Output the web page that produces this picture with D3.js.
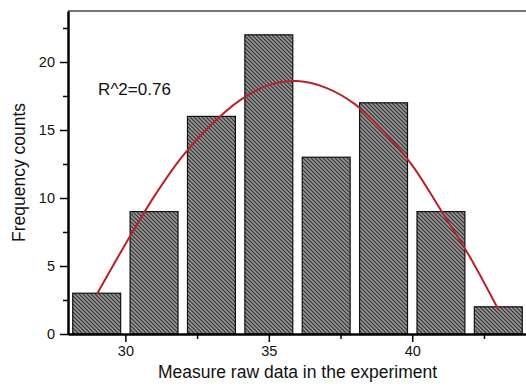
<!DOCTYPE html>
<html>
<head>
<meta charset="utf-8">
<script src="https://cdn.jsdelivr.net/npm/d3@7"></script>
<style>
  html, body { margin: 0; padding: 0; background: #fff; }
  svg { display: block; font-family: "Liberation Sans", Arial, sans-serif; }
</style>
</head>
<body>
<div id="chart"></div>
<script>
// histogram bins (centres) and counts
var binCenters = [29, 31, 33, 35, 37, 39, 41, 43];
var counts = [3, 9, 16, 22, 13, 17, 9, 2];

// fitted curve
var fitX = [29, 30, 31, 32, 33, 34, 35, 36, 37, 38, 39, 40, 41, 42, 43];
var fitY = [2.9, 6.6, 10.1, 13.1, 15.4, 17.2, 18.3, 18.6, 18.1, 16.9, 14.9, 12.4, 9.1, 5.7, 1.8];

var xTicks = [30, 35, 40];
var xMinor = [32.5, 37.5, 42.5];
var yTicks = [0, 5, 10, 15, 20];
var yMinor = [2.5, 7.5, 12.5, 17.5, 22.5];

var fitLabel = "R^2=0.76";

var W = 526, H = 388;
var margin = {top: 11, right: -1, bottom: 54, left: 68},
    width = W - margin.left - margin.right,
    height = H - margin.top - margin.bottom;

var x = d3.scaleLinear().domain([28, 44]).range([0, width]);
var y = d3.scaleLinear().domain([0, 23.75]).range([height, 0]);

var svg = d3.select("#chart").append("svg")
    .attr("width", W)
    .attr("height", H);

// hatch pattern for the bars
var defs = svg.append("defs");
var pat = defs.append("pattern")
    .attr("id", "hatch")
    .attr("patternUnits", "userSpaceOnUse")
    .attr("width", 4)
    .attr("height", 4);
pat.append("rect")
    .attr("width", 4).attr("height", 4)
    .attr("fill", "#979797");
pat.append("path")
    .attr("d", "M-1,-1 L5,5 M-1,3 L1,5 M3,-1 L5,1")
    .attr("stroke", "#333")
    .attr("stroke-width", 1.2);

var g = svg.append("g")
    .attr("transform", "translate(" + margin.left + "," + margin.top + ")");

var barW = x(28 + 1.67) - x(28);

g.selectAll(".bar")
    .data(counts)
  .enter().append("rect")
    .attr("class", "bar")
    .attr("x", function(d, i) { return x(binCenters[i]) - barW / 2; })
    .attr("width", barW)
    .attr("y", function(d) { return y(d); })
    .attr("height", function(d) { return y(0) - y(d); })
    .attr("fill", "url(#hatch)")
    .attr("stroke", "#111")
    .attr("stroke-width", 1.2);

// fit curve
var line = d3.line()
    .x(function(d) { return x(d[0]); })
    .y(function(d) { return y(d[1]); })
    .curve(d3.curveCatmullRom);

g.append("path")
    .datum(d3.zip(fitX, fitY))
    .attr("d", line)
    .attr("fill", "none")
    .attr("stroke", "#b8202a")
    .attr("stroke-width", 2);

// frame top
g.append("line")
    .attr("x1", 0).attr("x2", width)
    .attr("y1", 0).attr("y2", 0)
    .attr("stroke", "#777")
    .attr("stroke-width", 2);

// x axis
g.append("g")
    .attr("transform", "translate(0," + height + ")")
    .call(d3.axisBottom(x).tickValues(xTicks).tickSize(8).tickPadding(4).tickSizeOuter(0));
g.append("g")
    .attr("transform", "translate(0," + height + ")")
    .call(d3.axisBottom(x).tickValues(xMinor).tickSize(5).tickFormat("").tickSizeOuter(0));

// y axis
g.append("g")
    .call(d3.axisLeft(y).tickValues(yTicks).tickSize(8).tickPadding(5).tickSizeOuter(0));
g.append("g")
    .call(d3.axisLeft(y).tickValues(yMinor).tickSize(5).tickFormat("").tickSizeOuter(0));

g.selectAll(".domain")
    .attr("stroke", "#000")
    .attr("stroke-width", 2);
g.selectAll(".tick line")
    .attr("stroke", "#000")
    .attr("stroke-width", 1.5);
g.selectAll(".tick text")
    .attr("font-family", "'Liberation Sans', Arial, sans-serif")
    .attr("font-size", "14.5px")
    .attr("fill", "#111");

// labels
g.append("text")
    .attr("x", x(29.05))
    .attr("y", 84)
    .attr("font-size", "17px")
    .attr("fill", "#111")
    .text(fitLabel);

svg.append("text")
    .attr("x", margin.left + width / 2)
    .attr("y", 378)
    .attr("text-anchor", "middle")
    .attr("font-size", "17.5px")
    .attr("fill", "#111")
    .text("Measure raw data in the experiment");

svg.append("text")
    .attr("transform", "translate(25," + (margin.top + height / 2) + ") rotate(-90)")
    .attr("text-anchor", "middle")
    .attr("font-size", "17.5px")
    .attr("fill", "#111")
    .text("Frequency counts");
</script>
</body>
</html>
